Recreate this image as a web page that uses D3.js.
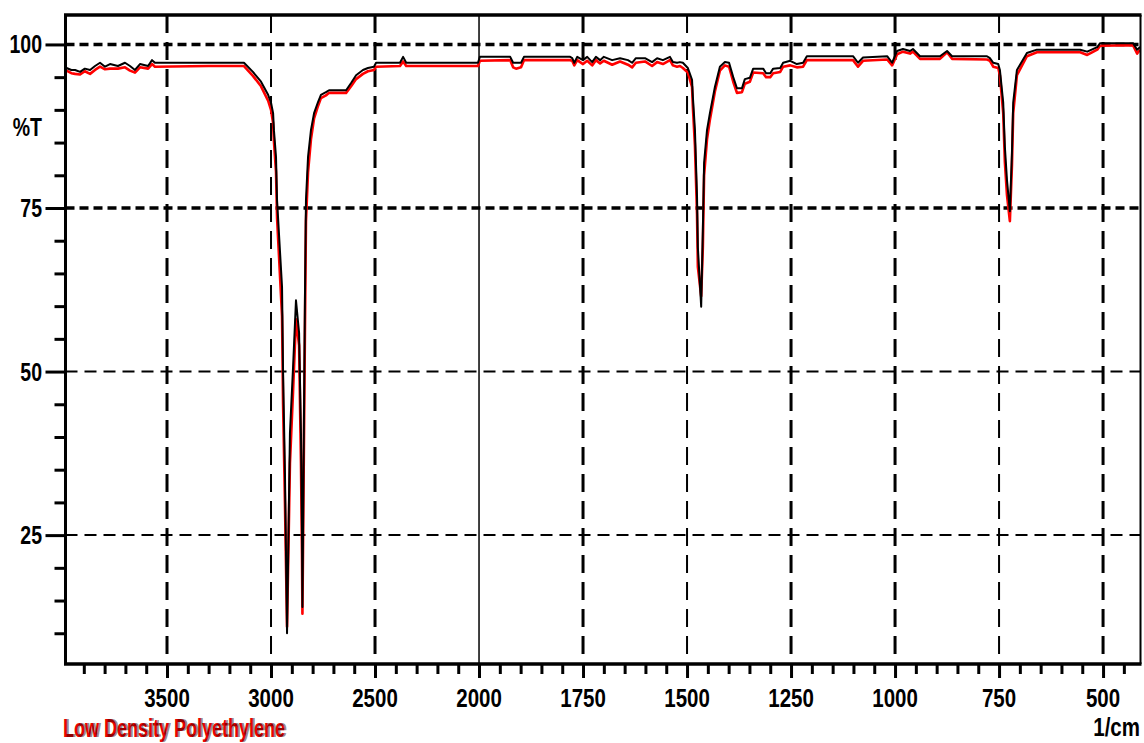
<!DOCTYPE html>
<html>
<head>
<meta charset="utf-8">
<script src="https://cdn.jsdelivr.net/npm/d3@7"></script>
<style>
  html, body { margin: 0; padding: 0; background: #fff; }
  svg { display: block; }
  .lbl { font-family: "Liberation Sans", Arial, sans-serif; font-weight: bold; font-size: 25px; }
</style>
</head>
<body>
<svg id="chart" width="1144" height="743"></svg>
<script>
// Wavenumber (1/cm) of each sampled point, high to low
const wavenumbers = [
  3983, 3960, 3942, 3918, 3895, 3870, 3846, 3822, 3798, 3774, 3736, 3702, 3678, 3654, 3630, 3591, 3572, 3558,
  3300, 3130, 3087, 3048, 3014, 3000, 2990, 2986, 2976, 2971, 2947, 2942, 2933, 2923, 2909, 2894, 2880, 2865,
  2856, 2851, 2849, 2837, 2832, 2822, 2808, 2793, 2774, 2760, 2736, 2721, 2639, 2615, 2591, 2558, 2534, 2505,
  2495, 2380, 2365, 2350, 2005, 1998, 1925, 1918, 1911, 1899, 1892, 1781, 1776, 1771, 1764, 1750, 1740, 1728,
  1719, 1709, 1700, 1680, 1661, 1642, 1632, 1623, 1601, 1584, 1572, 1558, 1541, 1534, 1524, 1517, 1510, 1498,
  1488, 1486, 1481, 1476, 1474, 1466, 1462, 1459, 1452, 1445, 1433, 1421, 1409, 1399, 1389, 1380, 1368, 1361,
  1349, 1341, 1317, 1310, 1300, 1293, 1276, 1269, 1252, 1236, 1221, 1212, 1101, 1089, 1077, 1019, 1007, 995,
  981, 964, 957, 940, 892, 875, 863, 779, 772, 764, 752, 748, 740, 736, 731, 724, 719, 716, 707, 683, 659,
  555, 538, 514, 507, 428, 418, 411
];

// Transmittance (%T), black trace
const transmittanceBlack = [
  96.4, 96.1, 96.1, 95.8, 96.3, 96.1, 96.7, 97.2, 96.6, 97.0, 96.7, 97.2, 96.7, 96.1, 97.0, 96.7, 97.6, 97.2,
  97.2, 97.2, 95.8, 94.3, 92.3, 91.1, 89.5, 86.9, 82.8, 76.2, 62.9, 49.8, 34.5, 10.0, 40.6, 50.7, 60.9, 55.9,
  40.6, 25.3, 14.0, 60.9, 76.2, 82.8, 86.9, 89.5, 91.2, 92.3, 92.7, 93.0, 93.0, 94.1, 95.3, 96.1, 96.4, 96.6,
  97.2, 97.2, 98.1, 97.2, 97.2, 98.1, 98.1, 97.2, 97.2, 97.2, 98.1, 98.1, 97.9, 97.2, 98.1, 97.6, 98.1, 97.3,
  98.1, 97.6, 98.1, 97.6, 97.9, 97.6, 97.2, 97.9, 97.9, 97.3, 97.9, 97.6, 98.1, 97.3, 97.2, 97.3, 97.2, 96.4,
  94.6, 92.0, 86.9, 76.7, 69.0, 59.9, 71.6, 81.9, 86.9, 89.5, 93.5, 96.6, 97.3, 97.2, 95.0, 93.3, 93.3, 94.7,
  94.9, 96.3, 96.3, 95.6, 95.6, 96.3, 96.4, 97.2, 97.5, 97.0, 97.2, 98.2, 98.2, 97.2, 98.0, 98.2, 97.2, 99.0,
  99.3, 99.0, 99.3, 98.2, 98.2, 99.0, 98.2, 98.2, 97.9, 97.2, 97.0, 96.1, 91.1, 84.3, 79.3, 74.5, 83.4, 91.1,
  96.1, 98.7, 99.2, 99.2, 98.9, 99.6, 100.2, 100.2, 99.2, 99.6
];

// Transmittance (%T), red trace
const transmittanceRed = [
  96.0, 95.6, 95.5, 95.4, 95.9, 95.5, 96.1, 96.6, 96.2, 96.3, 96.3, 96.5, 96.0, 95.7, 96.5, 96.3, 97.0, 96.6,
  96.7, 96.7, 95.2, 93.6, 91.4, 90.0, 88.0, 85.2, 80.5, 73.5, 58.5, 45.0, 30.0, 11.0, 36.0, 47.0, 58.0, 54.0,
  36.0, 22.0, 13.0, 56.0, 73.0, 80.5, 85.5, 88.7, 90.6, 91.8, 92.2, 92.6, 92.6, 93.6, 94.7, 95.5, 95.9, 96.1,
  96.6, 96.7, 97.4, 96.7, 96.7, 97.5, 97.6, 96.5, 96.3, 96.5, 97.6, 97.6, 97.5, 96.8, 97.6, 97.0, 97.5, 96.8,
  97.6, 97.1, 97.5, 96.9, 97.4, 96.9, 96.5, 97.2, 97.4, 96.7, 97.3, 97.0, 97.6, 96.8, 96.6, 96.7, 96.4, 95.7,
  93.5, 90.5, 84.5, 74.0, 66.0, 61.5, 69.0, 80.0, 85.5, 88.5, 92.8, 96.0, 96.8, 96.6, 94.3, 92.6, 92.7, 94.0,
  94.3, 95.7, 95.6, 95.0, 95.0, 95.6, 95.8, 96.6, 96.8, 96.5, 96.6, 97.6, 97.6, 96.6, 97.5, 97.7, 96.8, 98.5,
  98.9, 98.6, 98.9, 97.8, 97.8, 98.8, 97.8, 97.7, 97.5, 96.6, 96.4, 95.3, 89.5, 82.0, 77.0, 73.0, 81.5, 89.5,
  95.3, 98.2, 98.8, 98.8, 98.4, 99.2, 99.8, 99.9, 98.6, 99.2
];

const xMajorTicks = [3500, 3000, 2500, 2000, 1750, 1500, 1250, 1000, 750, 500];
const xMinorTicks = [
  3900, 3800, 3700, 3600, 3400, 3300, 3200, 3100, 2900, 2800, 2700, 2600, 2400, 2300, 2200, 2100,
  1950, 1900, 1850, 1800, 1700, 1650, 1600, 1550, 1450, 1400, 1350, 1300, 1200, 1150, 1100, 1050,
  950, 900, 850, 800, 700, 650, 600, 550, 450
];
const yMajorTicks = [100, 75, 50, 25];
const yMinorTicks = [95, 90, 85, 80, 70, 65, 60, 55, 45, 40, 35, 30, 20, 15, 10];

// Gridlines drawn heavier vs. lighter
const xGridHeavy = [3500, 2500, 1750, 1250, 1000, 500];
const xGridLight = [3000, 1500, 750];
const xGridSolid = [2000];
const yGridHeavy = [100, 75];
const yGridLight = [50, 25];

const xDomain = [3988, 2000, 410];   // scale doubles below 2000 1/cm
const yDomain = [5.3, 104.5];

const sampleName = "Low Density Polyethylene";
const xUnit = "1/cm";
const yTitle = "%T";

// ---- layout ----
const plot = { left: 65.5, right: 1140.5, top: 15, bottom: 664 };
const expansion = 2;
const spanHigh = xDomain[0] - xDomain[1];
const spanLow = (xDomain[1] - xDomain[2]) * expansion;
const xMid = plot.left + (plot.right - plot.left) * spanHigh / (spanHigh + spanLow);

const x = d3.scaleLinear().domain(xDomain).range([plot.left, xMid, plot.right]);
const y = d3.scaleLinear().domain(yDomain).range([plot.bottom, plot.top]);

const svg = d3.select("#chart");
svg.append("rect").attr("width", 1144).attr("height", 743).attr("fill", "#fff");

// ---- grid ----
const grid = svg.append("g").attr("stroke", "#000").attr("fill", "none");
grid.selectAll(".gxh").data(xGridHeavy).join("line")
  .attr("x1", d => x(d)).attr("x2", d => x(d))
  .attr("y1", plot.top).attr("y2", plot.bottom)
  .attr("stroke-width", 3).attr("stroke-dasharray", "18,9");
grid.selectAll(".gxl").data(xGridLight).join("line")
  .attr("x1", d => x(d)).attr("x2", d => x(d))
  .attr("y1", plot.top).attr("y2", plot.bottom)
  .attr("stroke-width", 2).attr("stroke-dasharray", "18,9");
grid.selectAll(".gxs").data(xGridSolid).join("line")
  .attr("x1", d => x(d)).attr("x2", d => x(d))
  .attr("y1", plot.top).attr("y2", plot.bottom)
  .attr("stroke-width", 1.5);
grid.selectAll(".gyh").data(yGridHeavy).join("line")
  .attr("x1", plot.left).attr("x2", plot.right)
  .attr("y1", d => y(d)).attr("y2", d => y(d))
  .attr("stroke-width", 3.5).attr("stroke-dasharray", "9,5");
grid.selectAll(".gyl").data(yGridLight).join("line")
  .attr("x1", plot.left).attr("x2", plot.right)
  .attr("y1", d => y(d)).attr("y2", d => y(d))
  .attr("stroke-width", 2).attr("stroke-dasharray", "12,7");

// ---- spectrum traces ----
const points = (vals) => wavenumbers.map((w, i) => [w, vals[i]]);
const line = d3.line().x(d => x(d[0])).y(d => y(d[1]));

svg.append("path").datum(points(transmittanceRed))
  .attr("d", line).attr("fill", "none").attr("stroke", "#ff0000")
  .attr("stroke-width", 2.6).attr("stroke-linejoin", "round");
svg.append("path").datum(points(transmittanceBlack))
  .attr("d", line).attr("fill", "none").attr("stroke", "#000")
  .attr("stroke-width", 2).attr("stroke-linejoin", "round");

// ---- frame ----
const frame = svg.append("g").attr("stroke", "#000").attr("fill", "none");
frame.append("line").attr("x1", plot.left - 1.5).attr("x2", plot.right + 1)
  .attr("y1", plot.top).attr("y2", plot.top).attr("stroke-width", 3.5);
frame.append("line").attr("x1", plot.left - 1.5).attr("x2", plot.right + 1)
  .attr("y1", plot.bottom).attr("y2", plot.bottom).attr("stroke-width", 3.5);
frame.append("line").attr("x1", plot.left).attr("x2", plot.left)
  .attr("y1", plot.top).attr("y2", plot.bottom).attr("stroke-width", 3);
frame.append("line").attr("x1", plot.right).attr("x2", plot.right)
  .attr("y1", plot.top).attr("y2", plot.bottom).attr("stroke-width", 2);

// ---- axes ----
function styleAxis(g) {
  g.select(".domain").remove();
  g.selectAll(".tick line").attr("stroke", "#000").attr("stroke-width", 3);
  g.selectAll(".tick text").remove();
}
svg.append("g").attr("transform", `translate(0,${plot.bottom})`)
  .call(d3.axisBottom(x).tickValues(xMinorTicks).tickSize(10)).call(styleAxis);
svg.append("g").attr("transform", `translate(0,${plot.bottom})`)
  .call(d3.axisBottom(x).tickValues(xMajorTicks).tickSize(14)).call(styleAxis);
svg.append("g").attr("transform", `translate(${plot.left},0)`)
  .call(d3.axisLeft(y).tickValues(yMinorTicks).tickSize(11)).call(styleAxis);
svg.append("g").attr("transform", `translate(${plot.left},0)`)
  .call(d3.axisLeft(y).tickValues(yMajorTicks).tickSize(20)).call(styleAxis);

// tick labels (narrow bold face)
const narrow = "scale(0.82,1)";
svg.append("g").selectAll("text").data(xMajorTicks).join("text")
  .attr("class", "lbl")
  .attr("transform", d => `translate(${x(d)},707) ${narrow}`)
  .attr("text-anchor", "middle").text(d => d);
svg.append("g").selectAll("text").data(yMajorTicks).join("text")
  .attr("class", "lbl")
  .attr("transform", d => `translate(42,${y(d) + 9}) scale(0.78,1)`)
  .attr("text-anchor", "end").text(d => d);

svg.append("text").attr("class", "lbl")
  .attr("transform", `translate(42,136) scale(0.78,1)`)
  .attr("text-anchor", "end").text(yTitle);

svg.append("text").attr("class", "lbl")
  .attr("transform", `translate(1140,736) ${narrow}`)
  .attr("text-anchor", "end").text(xUnit);

// sample name: red with a dark overprint
svg.append("text").attr("class", "lbl").attr("fill", "#ee0000")
  .attr("transform", `translate(63,737) scale(0.72,1)`).text(sampleName);
svg.append("text").attr("class", "lbl").attr("fill", "#200000")
  .attr("fill-opacity", 0.45)
  .attr("transform", `translate(65,737) scale(0.72,1)`).text(sampleName);
</script>
</body>
</html>
